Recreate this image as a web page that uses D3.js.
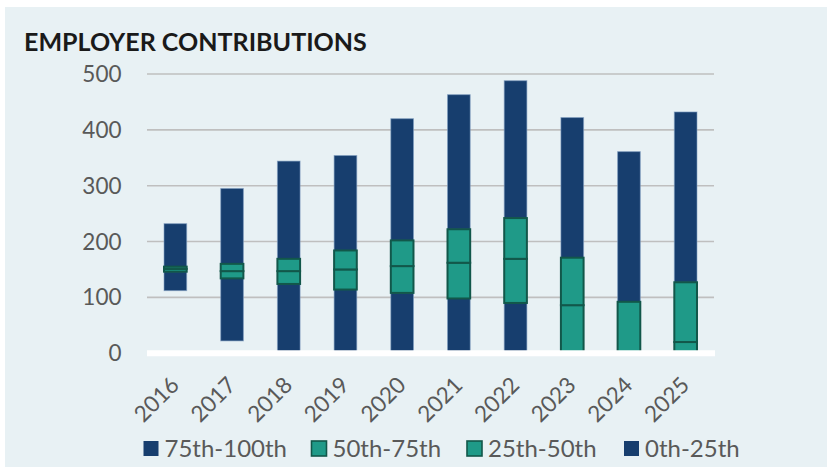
<!DOCTYPE html>
<html><head><meta charset="utf-8">
<script src="https://cdn.jsdelivr.net/npm/d3@7"></script>
<style>html,body{margin:0;padding:0;background:#fff;}svg{display:block;}</style>
</head><body>
<svg id="chart" width="827" height="467"></svg>
<script>
const title = "EMPLOYER CONTRIBUTIONS";
const years = ["2016","2017","2018","2019","2020","2021","2022","2023","2024","2025"];
const mins    = [112, 22, 0, 0, 0, 0, 0, 0, 0, 0];
const q25     = [146, 134, 124, 114, 108, 98, 90, 0, 0, 0];
const medians = [151, 147, 147, 150, 156, 162, 169, 86, 0, 20];
const q75     = [155, 160, 169, 184, 202, 222, 242, 171, 92, 127];
const maxs    = [232, 295, 344, 354, 420, 463, 488, 422, 361, 432];
const yTicks  = [0, 100, 200, 300, 400, 500];
const seriesNames = ["75th-100th", "50th-75th", "25th-50th", "0th-25th"];

const BLUE = "#173e6e", GREEN = "#1f9a88", DARK = "#12574a", BG = "#e8f1f4", GRID = "#bfbfbf", TXT = "#595959";
const FONT = "Lato, 'Open Sans', sans-serif";

const svg = d3.select("#chart");
svg.append("rect").attr("x", 5).attr("y", 7).attr("width", 822).attr("height", 460).attr("fill", BG);

const x = d3.scaleBand().domain(years).range([147, 714]).paddingInner(0.6).paddingOuter(0.3);
const y = d3.scaleLinear().domain([0, 500]).range([353.2, 74]);

// gridlines
svg.append("g").selectAll("line").data(yTicks.filter(d => d > 0)).join("line")
  .attr("x1", 147).attr("x2", 714).attr("y1", d => y(d)).attr("y2", d => y(d))
  .attr("stroke", GRID).attr("stroke-width", 1.6);

// y labels
svg.append("g").selectAll("text").data(yTicks).join("text")
  .attr("x", 121.5).attr("y", d => y(d)).attr("dy", "0.36em")
  .attr("text-anchor", "end").attr("fill", TXT)
  .style("font-family", FONT).style("font-size", "22.5px")
  .text(d => d);

const rows = years.map((yr, i) => ({yr, min: mins[i], q25: q25[i], med: medians[i], q75: q75[i], max: maxs[i]}));

// blue segments
const blueSegs = [];
rows.forEach(r => {
  if (r.max > r.q75) blueSegs.push({yr: r.yr, a: r.q75, b: r.max});
  if (r.q25 > r.min) blueSegs.push({yr: r.yr, a: r.min, b: r.q25});
});
svg.append("g").selectAll("rect").data(blueSegs).join("rect")
  .attr("x", d => x(d.yr)).attr("width", x.bandwidth())
  .attr("y", d => y(d.b)).attr("height", d => y(d.a) - y(d.b))
  .attr("fill", BLUE).attr("stroke", "#7f9cc0").attr("stroke-opacity", 0.6).attr("stroke-width", 1);

// green segments
const greenSegs = [];
rows.forEach(r => {
  if (r.med > r.q25) greenSegs.push({yr: r.yr, a: r.q25, b: r.med});
  if (r.q75 > r.med) greenSegs.push({yr: r.yr, a: r.med, b: r.q75});
});
svg.append("g").selectAll("rect").data(greenSegs).join("rect")
  .attr("x", d => x(d.yr)).attr("width", x.bandwidth())
  .attr("y", d => y(d.b)).attr("height", d => y(d.a) - y(d.b))
  .attr("fill", GREEN).attr("stroke", DARK).attr("stroke-width", 2);

// axis line (white)
svg.append("line").attr("x1", 147).attr("x2", 715).attr("y1", y(0)).attr("y2", y(0))
  .attr("stroke", "#ffffff").attr("stroke-width", 6);

// x labels
svg.append("g").selectAll("text").data(years).join("text")
  .attr("transform", d => `translate(${x(d) + x.bandwidth() / 2 - 0.5},${381}) rotate(-45)`)
  .attr("text-anchor", "end").attr("dy", "0.35em").attr("fill", TXT)
  .style("font-family", FONT).style("font-size", "22.5px")
  .text(d => d);

// title
const t = svg.append("text").attr("x", 24).attr("y", 50.5).attr("fill", "#1a1a1a")
  .style("font-family", FONT).style("font-weight", "bold").style("font-size", "23px")
  .text(title);
const tw = t.node().getComputedTextLength();
if (tw > 0) t.style("font-size", (23 * 343 / tw) + "px");

// legend
const legendX = [143.5, 311.5, 467, 624];
const legendFill = [BLUE, GREEN, GREEN, BLUE];
const legendStroke = ["none", DARK, DARK, "none"];
const lg = svg.append("g").selectAll("g").data(seriesNames).join("g")
  .attr("transform", (d, i) => `translate(${legendX[i]},448.5)`);
lg.append("rect").attr("x", 0).attr("y", -7.5).attr("width", 15).attr("height", 15)
  .attr("fill", (d, i) => legendFill[i]).attr("stroke", (d, i) => legendStroke[i]).attr("stroke-width", 1.6);
lg.append("text").attr("x", 21).attr("y", 0).attr("dy", "0.36em").attr("fill", TXT)
  .style("font-family", FONT).style("font-size", "24px")
  .text(d => d);
</script>
</body></html>
